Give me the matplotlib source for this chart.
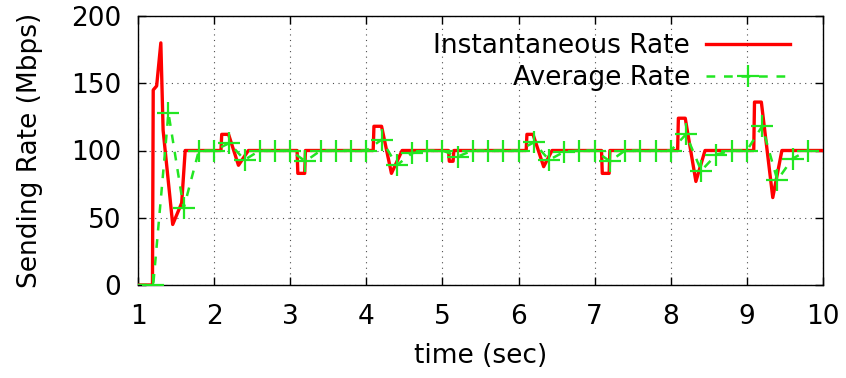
import matplotlib
matplotlib.use('Agg')
import matplotlib.pyplot as plt

# instantaneous sending rate (Mbps)
inst_t = [1.0, 1.19, 1.2, 1.245, 1.30, 1.33, 1.456, 1.574, 1.62, 2.09, 2.10, 2.19, 2.32, 2.45,
          3.09, 3.10, 3.19, 3.20, 4.09, 4.10, 4.20, 4.33, 4.47, 5.08, 5.09, 5.14, 5.15,
          6.10, 6.11, 6.19, 6.33, 6.44, 7.09, 7.10, 7.19, 7.20, 8.09, 8.10, 8.19, 8.33, 8.45,
          9.09, 9.10, 9.19, 9.34, 9.46, 10.0]
inst_rate = [0, 0, 145, 148, 180, 115, 45, 61, 100, 100, 112, 112, 89, 100,
             100, 83, 83, 100, 100, 118, 118, 83, 100, 100, 92, 92, 100,
             100, 112, 112, 88, 100, 100, 83, 83, 100, 100, 124, 124, 77, 100,
             100, 136, 136, 65, 100, 100]

# average rate, sampled every 0.2 s
avg_t = [1.0, 1.2, 1.4, 1.6, 1.8, 2.0, 2.2, 2.4, 2.6, 2.8, 3.0, 3.2, 3.4, 3.6, 3.8, 4.0,
         4.2, 4.4, 4.6, 4.8, 5.0, 5.2, 5.4, 5.6, 5.8, 6.0, 6.2, 6.4, 6.6, 6.8, 7.0,
         7.2, 7.4, 7.6, 7.8, 8.0, 8.2, 8.4, 8.6, 8.8, 9.0, 9.2, 9.4, 9.6, 9.8]
avg_rate = [0, 0, 128, 57, 100, 100, 105.5, 93, 100, 100, 100, 92, 100, 100, 100, 100,
            108, 89, 98, 100, 100, 95.5, 100, 100, 100, 100, 106, 93, 99, 100, 100,
            92, 100, 100, 100, 100, 112, 85, 97, 100, 100, 118, 78, 94, 100]

xticks = [1, 2, 3, 4, 5, 6, 7, 8, 9, 10]
yticks = [0, 50, 100, 150, 200]

plt.rcParams['font.family'] = 'DejaVu Sans'
plt.rcParams['font.size'] = 19

fig = plt.figure(figsize=(8.46, 3.78), dpi=100)
ax = fig.add_axes([138/846, 1-285/378, 685/846, 269/378])

ax.plot(inst_t, inst_rate, color='#ff0000', lw=2.4, label='Instantaneous Rate', zorder=3)
ax.plot(avg_t, avg_rate, color='#22e622', lw=1.8, dashes=(3.5, 3.5), marker='+',
        markersize=16, markeredgewidth=1.6, markevery=slice(1, None),
        label='Average Rate', zorder=4)

ax.set_xlim(1, 10)
ax.set_ylim(0, 200)
ax.set_xticks(xticks)
ax.set_yticks(yticks)
ax.tick_params(direction='in', length=6, width=1, top=True, right=True)
ax.tick_params(axis='x', pad=14)
ax.tick_params(axis='y', pad=12)
ax.grid(True, color='0.3', linestyle=(0, (1, 4)), linewidth=0.8)
for s in ax.spines.values():
    s.set_linewidth(1)

ax.set_xlabel('time (sec)', labelpad=9)
ax.set_ylabel('Sending Rate (Mbps)', labelpad=20)

ax.legend(loc='upper right', bbox_to_anchor=(0.952, 0.935), frameon=False,
          markerfirst=False, borderpad=0, borderaxespad=0, handlelength=3.2,
          handletextpad=0.6, labelspacing=0.2, numpoints=1)

fig.savefig('out.png', dpi=100)
